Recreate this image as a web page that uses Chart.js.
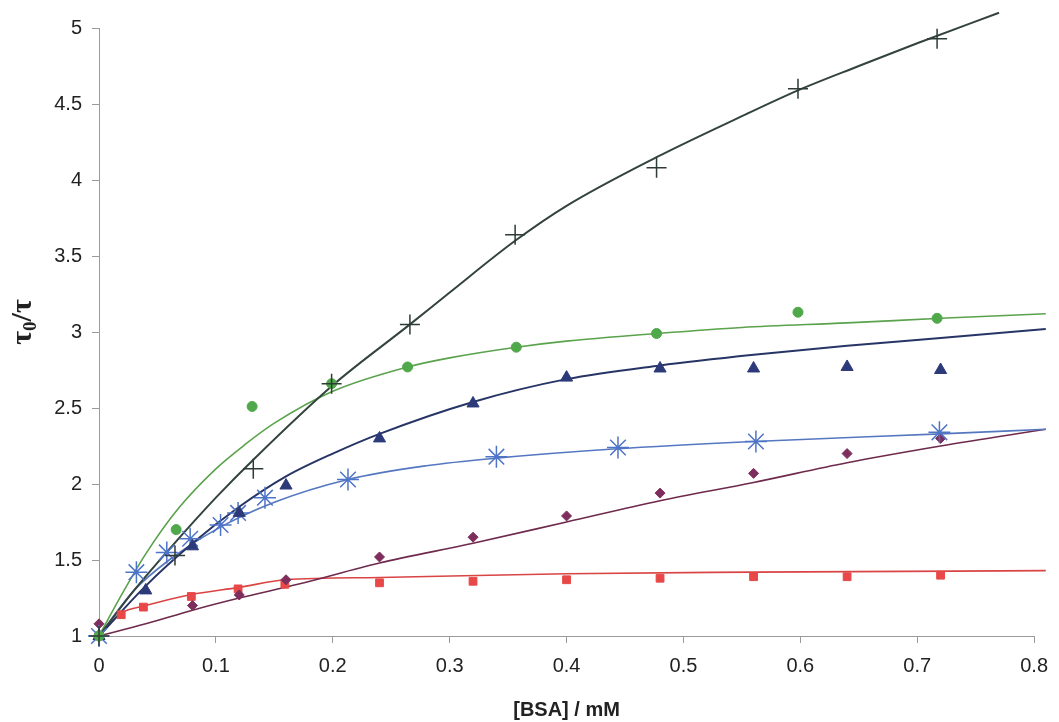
<!DOCTYPE html>
<html>
<head>
<meta charset="utf-8">
<script src="https://cdn.jsdelivr.net/npm/chart.js@4"></script>
<style>
  html, body { margin: 0; padding: 0; background: #fff; }
  #wrap { width: 1059px; height: 722px; }
</style>
</head>
<body>
<div id="wrap"><canvas id="chart" width="1059" height="722"></canvas></div>
<script>
// measured points, [BSA] in mM vs tau0/tau
const plusX = [0, 0.065, 0.132, 0.199, 0.266, 0.356, 0.477, 0.598, 0.717];
const plusY = [1.0, 1.53, 2.10, 2.66, 3.05, 3.64, 4.08, 4.60, 4.93];
const circleX = [0, 0.066, 0.131, 0.199, 0.264, 0.357, 0.477, 0.598, 0.717];
const circleY = [1.0, 1.70, 2.51, 2.66, 2.77, 2.90, 2.99, 3.13, 3.09];
const triX = [0, 0.04, 0.08, 0.12, 0.16, 0.24, 0.32, 0.40, 0.48, 0.56, 0.64, 0.72];
const triY = [1.0, 1.30, 1.59, 1.81, 1.99, 2.30, 2.53, 2.70, 2.76, 2.76, 2.77, 2.75];
const starX = [0, 0.032, 0.058, 0.078, 0.104, 0.119, 0.142, 0.213, 0.340, 0.444, 0.562, 0.719];
const starY = [1.0, 1.42, 1.55, 1.64, 1.73, 1.81, 1.91, 2.03, 2.18, 2.24, 2.28, 2.34];
const diamX = [0, 0.08, 0.12, 0.16, 0.24, 0.32, 0.40, 0.48, 0.56, 0.64, 0.72];
const diamY = [1.08, 1.20, 1.27, 1.37, 1.52, 1.65, 1.79, 1.94, 2.07, 2.20, 2.30];
const sqX = [0, 0.019, 0.038, 0.079, 0.119, 0.159, 0.24, 0.32, 0.40, 0.48, 0.56, 0.64, 0.72];
const sqY = [1.0, 1.14, 1.19, 1.26, 1.31, 1.34, 1.35, 1.36, 1.37, 1.38, 1.39, 1.39, 1.40];

// fitted curves
const plusFitX = [0, 0.03, 0.06, 0.1, 0.132, 0.2, 0.266, 0.3, 0.356, 0.4, 0.477, 0.55, 0.598, 0.65, 0.7, 0.77];
const plusFitY = [1.0, 1.3, 1.57, 1.91, 2.16, 2.65, 3.05, 3.26, 3.6, 3.83, 4.15, 4.42, 4.59, 4.75, 4.9, 5.1];
const circleFitX = [0, 0.02, 0.04, 0.068, 0.1, 0.125, 0.15, 0.2, 0.264, 0.3, 0.357, 0.4, 0.477, 0.55, 0.64, 0.72, 0.81];
const circleFitY = [1.0, 1.28, 1.54, 1.84, 2.1, 2.26, 2.4, 2.61, 2.77, 2.83, 2.9, 2.94, 2.99, 3.03, 3.06, 3.09, 3.12];
const triFitX = [0, 0.04, 0.08, 0.12, 0.16, 0.2, 0.24, 0.32, 0.4, 0.48, 0.56, 0.64, 0.72, 0.81];
const triFitY = [1.0, 1.33, 1.61, 1.85, 2.05, 2.2, 2.33, 2.54, 2.69, 2.78, 2.85, 2.91, 2.96, 3.02];
const starFitX = [0, 0.03, 0.06, 0.1, 0.15, 0.213, 0.28, 0.34, 0.44, 0.56, 0.72, 0.81];
const starFitY = [1.0, 1.3, 1.5, 1.7, 1.88, 2.03, 2.12, 2.17, 2.23, 2.28, 2.33, 2.36];
const diamFitX = [0, 0.04, 0.08, 0.12, 0.17, 0.24, 0.32, 0.4, 0.48, 0.56, 0.64, 0.72, 0.81];
const diamFitY = [1.0, 1.08, 1.17, 1.25, 1.34, 1.48, 1.61, 1.75, 1.89, 2.01, 2.14, 2.25, 2.36];
const sqFitX = [0, 0.019, 0.04, 0.077, 0.12, 0.16, 0.24, 0.4, 0.56, 0.81];
const sqFitY = [1.0, 1.15, 1.2, 1.27, 1.32, 1.37, 1.385, 1.41, 1.42, 1.43];

const xTicks = [0, 0.1, 0.2, 0.3, 0.4, 0.5, 0.6, 0.7, 0.8];
const yTicks = [1, 1.5, 2, 2.5, 3, 3.5, 4, 4.5, 5];

const pts = (xs, ys) => xs.map((x, i) => ({ x: x, y: ys[i] }));

function marks(xs, ys, style, color, radius, width) {
  return {
    data: pts(xs, ys), showLine: false, order: 0, clip: false,
    pointStyle: style, pointRadius: radius, pointHoverRadius: radius,
    backgroundColor: color, borderColor: color, pointBorderWidth: width
  };
}

function fit(xs, ys, color, width) {
  return {
    data: pts(xs, ys), showLine: true, order: 1, clip: false,
    pointRadius: 0, borderColor: color, borderWidth: width,
    cubicInterpolationMode: 'monotone', fill: false
  };
}

// rotated y title with a real subscript
const yTitle = {
  id: 'yTitle',
  afterDraw(chart) {
    const ctx = chart.ctx;
    const big = 'bold 30px "Liberation Serif", "DejaVu Serif", serif';
    const small = 'bold 19px "Liberation Serif", "DejaVu Serif", serif';
    ctx.save();
    ctx.translate(23, 322);
    ctx.rotate(-Math.PI / 2);
    ctx.fillStyle = '#222';
    ctx.textBaseline = 'alphabetic';
    ctx.font = big;
    const wt = ctx.measureText('τ').width;
    const ws = ctx.measureText('/τ').width;
    ctx.font = small;
    const w0 = ctx.measureText('0').width;
    let x = -(wt + w0 + ws) / 2;
    ctx.font = big;
    ctx.fillText('τ', x, 8);
    x += wt;
    ctx.font = small;
    ctx.fillText('0', x, 13);
    x += w0;
    ctx.font = big;
    ctx.fillText('/τ', x, 8);
    ctx.restore();
  }
};

const axisColor = '#9a9a9a';
const tickFont = { family: '"Liberation Sans", Arial, sans-serif', size: 20 };

new Chart(document.getElementById('chart').getContext('2d'), {
  type: 'scatter',
  data: {
    datasets: [
      marks(plusX, plusY, 'cross', '#2f3b36', 10, 1.5),
      marks(circleX, circleY, 'circle', '#4fa84a', 5, 1),
      marks(triX, triY, 'triangle', '#2d3a7a', 7, 1),
      marks(starX, starY, 'star', '#4e74c8', 11, 1.5),
      marks(diamX, diamY, 'rectRot', '#7d2e5c', 5, 1),
      marks(sqX, sqY, 'rect', '#e84848', 5.5, 1),
      fit(plusFitX, plusFitY, '#33433d', 2),
      fit(circleFitX, circleFitY, '#5aa24c', 1.6),
      fit(triFitX, triFitY, '#273566', 2),
      fit(starFitX, starFitY, '#5577c0', 1.6),
      fit(diamFitX, diamFitY, '#6e2a4c', 1.6),
      fit(sqFitX, sqFitY, '#d94444', 1.6)
    ]
  },
  options: {
    responsive: false,
    animation: false,
    layout: { padding: { left: 0, top: 28, right: 15, bottom: 0 } },
    plugins: { legend: { display: false }, tooltip: { enabled: false } },
    scales: {
      x: {
        type: 'linear', min: 0, max: 0.8,
        afterFit: s => { s.height = 86; },
        afterBuildTicks: s => { s.ticks = xTicks.map(v => ({ value: v })); },
        ticks: { color: '#222', font: tickFont, padding: 11, maxRotation: 0,
                 callback: v => String(v) },
        grid: { drawOnChartArea: false, color: axisColor, tickLength: 7 },
        border: { color: axisColor },
        title: { display: true, text: '[BSA] / mM', color: '#222',
                 font: { family: '"Liberation Sans", Arial, sans-serif', size: 20, weight: 'bold' },
                 padding: { top: 0, bottom: 0 } }
      },
      y: {
        type: 'linear', min: 1, max: 5,
        afterFit: s => { s.width = 99; },
        afterBuildTicks: s => { s.ticks = yTicks.map(v => ({ value: v })); },
        ticks: { color: '#222', font: tickFont, padding: 10,
                 callback: v => String(v) },
        grid: { drawOnChartArea: false, color: axisColor, tickLength: 7 },
        border: { color: axisColor }
      }
    }
  },
  plugins: [yTitle]
});
</script>
</body>
</html>
